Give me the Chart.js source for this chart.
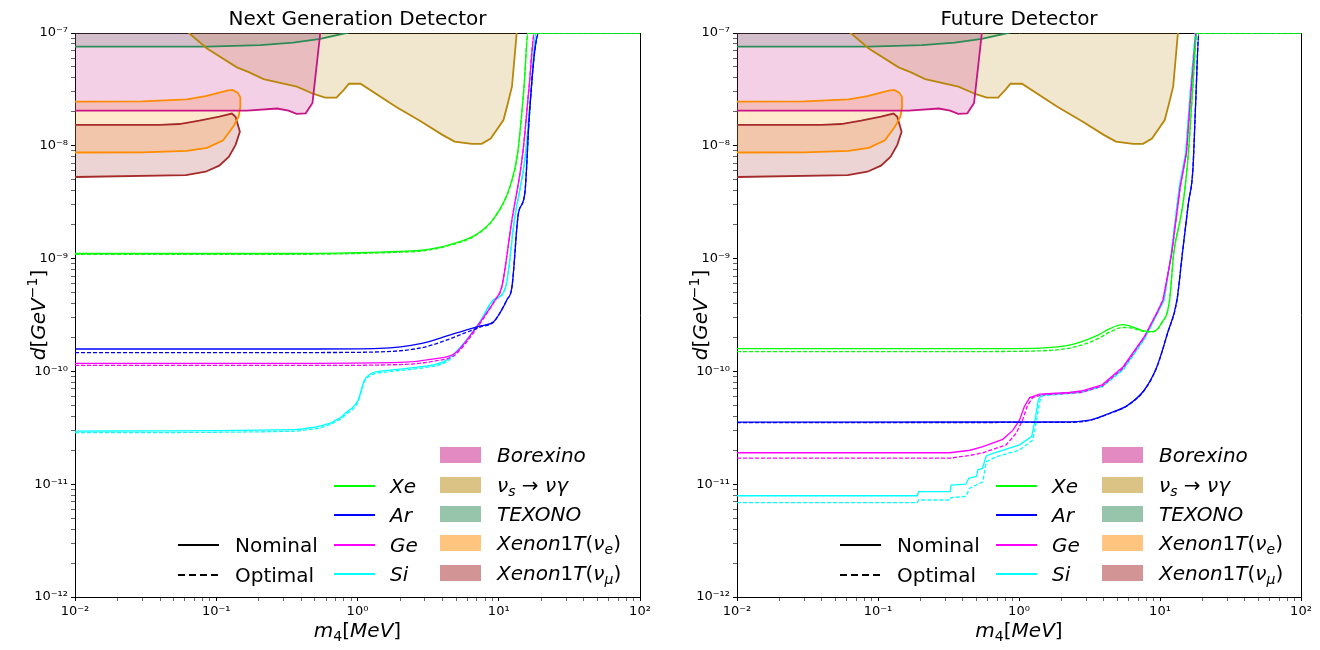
<!DOCTYPE html>
<html>
<head>
<meta charset="utf-8">
<script src="https://cdn.jsdelivr.net/npm/chart.js@4.4.1/dist/chart.umd.min.js"></script>
<style>
  html, body { margin: 0; padding: 0; background: #fff; }
  #wrap { position: relative; width: 1320px; height: 650px; overflow: hidden; font-family: "DejaVu Sans", sans-serif; color: #000; }
  .pane { position: absolute; top: 0; width: 660px; height: 650px; }
  .txt { position: absolute; white-space: nowrap; font-size: 20px; line-height: 20px; }
  sub, sup { font-size: 70%; line-height: 0; }
  sub { vertical-align: -0.3em; }
  sup { vertical-align: 0.55em; }
  .lline { position: absolute; width: 41px; }
  .patch { position: absolute; width: 41px; height: 16px; }
</style>
</head>
<body>
<div id="wrap">
  <div class="pane" style="left:0"><canvas id="c1" width="660" height="650"></canvas></div>
  <div class="pane" style="left:660px"><canvas id="c2" width="660" height="650"></canvas></div>
</div>
<script>
// ---------------- tick labels ----------------
const xMajor = [0.01, 0.1, 1, 10, 100];
const xMajorLabels = ['10\u207B\u00B2', '10\u207B\u00B9', '10\u2070', '10\u00B9', '10\u00B2'];
const yMajor = [1e-12, 1e-11, 1e-10, 1e-9, 1e-8, 1e-7];
const yMajorLabels = ['10\u207B\u00B9\u00B2', '10\u207B\u00B9\u00B9', '10\u207B\u00B9\u2070', '10\u207B\u2079', '10\u207B\u2078', '10\u207B\u2077'];

// ---------------- exclusion regions (closed outlines) ----------------
const borexinoX = [0.005, 0.01, 0.165, 0.27, 0.325, 0.37, 0.43, 0.48, 0.545, 0.58, 0.005];
const borexinoY = [2.05e-8, 2.05e-8, 2.05e-8, 2.14e-8, 2.05e-8, 1.92e-8, 1.94e-8, 2.4e-8, 1e-7, 2e-7, 2e-7];

const nuGammaX = [0.05, 0.064, 0.086, 0.14, 0.17, 0.216, 0.372, 0.49, 0.59, 0.71, 0.80, 0.87, 1.05, 1.87, 2.82, 3.99, 4.87, 6.44, 7.57, 8.77, 10.8, 11.6, 12.4, 13.4, 13.8, 13.8, 0.05];
const nuGammaY = [1.3e-7, 1e-7, 7.3e-8, 4.96e-8, 4.5e-8, 3.9e-8, 3.35e-8, 2.88e-8, 2.67e-8, 2.67e-8, 3.13e-8, 3.55e-8, 3.55e-8, 2.22e-8, 1.64e-8, 1.25e-8, 1.09e-8, 1.04e-8, 1.04e-8, 1.16e-8, 1.69e-8, 2.38e-8, 3.34e-8, 1e-7, 1.4e-7, 2e-7, 2e-7];

const texonoX = [0.005, 0.086, 0.205, 0.35, 0.545, 0.83, 1.3, 1.3, 0.005];
const texonoY = [7.56e-8, 7.56e-8, 7.8e-8, 8.2e-8, 8.85e-8, 1e-7, 1.15e-7, 2e-7, 2e-7];

const xenonEX = [0.005, 0.03, 0.062, 0.084, 0.119, 0.13, 0.1415, 0.148, 0.148, 0.144, 0.132, 0.112, 0.086, 0.062, 0.03, 0.005];
const xenonEY = [2.46e-8, 2.48e-8, 2.58e-8, 2.76e-8, 3.08e-8, 3.13e-8, 2.96e-8, 2.7e-8, 2.2e-8, 1.81e-8, 1.48e-8, 1.12e-8, 9.6e-9, 9.0e-9, 8.75e-9, 8.7e-9];

const xenonMuX = [0.005, 0.04, 0.0547, 0.0759, 0.105, 0.129, 0.137, 0.147, 0.137, 0.123, 0.105, 0.084, 0.061, 0.005];
const xenonMuY = [1.53e-8, 1.535e-8, 1.56e-8, 1.67e-8, 1.81e-8, 1.93e-8, 1.81e-8, 1.33e-8, 1.02e-8, 8.0e-9, 6.67e-9, 5.89e-9, 5.5e-9, 5.21e-9];

// ---------------- Next Generation Detector ----------------
const xeNgX    = [0.01, 0.3, 1, 2, 2.89, 4.4, 7.1, 9.4, 12.0, 13.6, 15.1, 16.1, 100];
const xeNgNom  = [1.11e-9, 1.11e-9, 1.13e-9, 1.16e-9, 1.19e-9, 1.32e-9, 1.67e-9, 2.35e-9, 4.35e-9, 8.6e-9, 3.34e-8, 1e-7, 1e-7];
const xeNgOpt  = [1.09e-9, 1.09e-9, 1.11e-9, 1.14e-9, 1.17e-9, 1.30e-9, 1.65e-9, 2.33e-9, 4.3e-9, 8.5e-9, 3.3e-8, 1e-7, 1e-7];

const arNgX    = [0.01, 0.5, 1.43, 2.85, 4.3, 5.7, 7.45, 9.2, 10.2, 11.4, 12.4, 13.8, 15.3, 16.4, 17.9, 19.2, 100];
const arNgNom  = [1.58e-10, 1.58e-10, 1.6e-10, 1.77e-10, 2.06e-10, 2.30e-10, 2.53e-10, 2.76e-10, 3.3e-10, 4.3e-10, 5.6e-10, 2.54e-9, 3.8e-9, 1.7e-8, 6.6e-8, 1e-7, 1e-7];
const arNgOpt  = [1.47e-10, 1.47e-10, 1.49e-10, 1.62e-10, 1.9e-10, 2.18e-10, 2.48e-10, 2.74e-10, 3.3e-10, 4.3e-10, 5.6e-10, 2.54e-9, 3.8e-9, 1.7e-8, 6.6e-8, 1e-7, 1e-7];

const geNgX    = [0.01, 0.5, 2.0, 3.47, 4.9, 6.47, 7.94, 9.44, 10.5, 12.4, 14.8, 16.4, 17.9, 100];
const geNgNom  = [1.18e-10, 1.18e-10, 1.2e-10, 1.29e-10, 1.45e-10, 2.18e-10, 3.1e-10, 4.3e-10, 5.6e-10, 2.2e-9, 8.6e-9, 3.34e-8, 1e-7, 1e-7];
const geNgOpt  = [1.13e-10, 1.13e-10, 1.15e-10, 1.23e-10, 1.4e-10, 2.12e-10, 3.05e-10, 4.3e-10, 5.6e-10, 2.2e-9, 8.6e-9, 3.34e-8, 1e-7, 1e-7];

const siNgX    = [0.01, 0.359, 0.45, 0.542, 0.6, 0.65, 0.7, 0.75, 0.82, 1.01, 1.12, 1.24, 1.63, 2.83, 4.28, 5.63, 7.41, 9.12, 11.2, 12.9, 15.5, 17.0, 18.4, 100];
const siNgNom  = [2.96e-11, 3.05e-11, 3.15e-11, 3.28e-11, 3.4e-11, 3.5e-11, 3.7e-11, 3.85e-11, 4.26e-11, 5.57e-11, 8.4e-11, 9.5e-11, 1.02e-10, 1.10e-10, 1.26e-10, 1.77e-10, 2.8e-10, 4.3e-10, 5.6e-10, 2.2e-9, 8.6e-9, 3.34e-8, 1e-7, 1e-7];
const siNgOpt  = [2.86e-11, 2.95e-11, 3.05e-11, 3.15e-11, 3.3e-11, 3.4e-11, 3.6e-11, 3.75e-11, 4.1e-11, 5.4e-11, 8.1e-11, 9.2e-11, 9.9e-11, 1.07e-10, 1.22e-10, 1.7e-10, 2.7e-10, 4.2e-10, 5.6e-10, 2.2e-9, 8.6e-9, 3.34e-8, 1e-7, 1e-7];

// ---------------- Future Detector ----------------
const xeFX     = [0.01, 0.5, 1.39, 2.40, 3.63, 4.46, 5.41, 6.3, 7.48, 8.87, 10.2, 11.7, 12.5, 13.9, 14.9, 15.9, 17.1, 18.3, 100];
const xeFNom   = [1.59e-10, 1.59e-10, 1.61e-10, 1.74e-10, 2.1e-10, 2.41e-10, 2.6e-10, 2.5e-10, 2.3e-10, 2.25e-10, 2.66e-10, 4.3e-10, 1.11e-9, 2.2e-9, 3.8e-9, 8.6e-9, 3.34e-8, 1e-7, 1e-7];
const xeFOpt   = [1.50e-10, 1.50e-10, 1.52e-10, 1.63e-10, 1.95e-10, 2.25e-10, 2.45e-10, 2.42e-10, 2.28e-10, 2.24e-10, 2.64e-10, 4.3e-10, 1.11e-9, 2.2e-9, 3.8e-9, 8.6e-9, 3.34e-8, 1e-7, 1e-7];

const arFX     = [0.01, 1.95, 3.16, 4.47, 5.88, 7.74, 9.5, 11.3, 13.2, 14.4, 15.9, 17.1, 17.9, 18.9, 100];
const arFNom   = [3.55e-11, 3.56e-11, 3.7e-11, 4.3e-11, 5.0e-11, 6.84e-11, 1.1e-10, 2.18e-10, 4.3e-10, 1.1e-9, 3.1e-9, 6.1e-9, 2.38e-8, 1e-7, 1e-7];
const arFOpt   = [3.52e-11, 3.53e-11, 3.67e-11, 4.27e-11, 4.97e-11, 6.8e-11, 1.09e-10, 2.17e-10, 4.3e-10, 1.1e-9, 3.1e-9, 6.1e-9, 2.38e-8, 1e-7, 1e-7];

const geFNomX  = [0.01, 0.322, 0.45, 0.554, 0.767, 0.903, 1.008, 1.09, 1.19, 1.40, 2.27, 2.76, 3.89, 5.48, 7.74, 9.5, 10.5, 12.1, 13.9, 15.4, 16.7, 18.0, 100];
const geFNom   = [1.9e-11, 1.9e-11, 2.0e-11, 2.15e-11, 2.5e-11, 3.0e-11, 3.7e-11, 4.86e-11, 5.86e-11, 6.3e-11, 6.5e-11, 6.7e-11, 7.6e-11, 1.1e-10, 2.03e-10, 3.3e-10, 4.3e-10, 1.1e-9, 4.3e-9, 8.6e-9, 3.34e-8, 1e-7, 1e-7];
const geFOptX  = [0.01, 0.322, 0.45, 0.554, 0.81, 0.955, 1.06, 1.15, 1.25, 1.47, 2.27, 2.76, 3.89, 5.48, 7.74, 9.5, 10.5, 12.1, 13.9, 15.4, 16.7, 18.0, 100];
const geFOpt   = [1.7e-11, 1.7e-11, 1.8e-11, 1.9e-11, 2.23e-11, 2.83e-11, 3.7e-11, 5.0e-11, 5.86e-11, 6.2e-11, 6.4e-11, 6.5e-11, 7.4e-11, 1.07e-10, 2.0e-10, 3.3e-10, 4.3e-10, 1.1e-9, 4.3e-9, 8.6e-9, 3.34e-8, 1e-7, 1e-7];

const siFNomX  = [0.01, 0.19, 0.194, 0.325, 0.33, 0.42, 0.44, 0.5, 0.51, 0.55, 0.586, 0.653, 1.008, 1.23, 1.30, 1.37, 1.45, 2.27, 2.76, 3.89, 5.48, 7.74, 9.5, 10.7, 12.0, 13.7, 15.2, 16.5, 17.8, 100];
const siFNom   = [7.9e-12, 7.9e-12, 8.6e-12, 8.6e-12, 9.8e-12, 1.0e-11, 1.13e-11, 1.17e-11, 1.34e-11, 1.38e-11, 1.78e-11, 1.88e-11, 2.23e-11, 2.64e-11, 3.71e-11, 5.57e-11, 6.18e-11, 6.47e-11, 6.6e-11, 7.4e-11, 1.05e-10, 1.95e-10, 3.2e-10, 4.3e-10, 1.1e-9, 4.3e-9, 8.6e-9, 3.34e-8, 1e-7, 1e-7];
const siFOptX  = [0.01, 0.19, 0.194, 0.325, 0.33, 0.42, 0.447, 0.498, 0.554, 0.586, 0.69, 1.008, 1.25, 1.32, 1.40, 1.47, 2.27, 2.76, 3.89, 5.48, 7.74, 9.5, 10.7, 12.0, 13.7, 15.2, 16.5, 17.8, 100];
const siFOpt   = [6.86e-12, 6.86e-12, 7.24e-12, 7.24e-12, 7.6e-12, 7.8e-12, 9.2e-12, 9.84e-12, 1.05e-11, 1.58e-11, 1.75e-11, 2.01e-11, 2.46e-11, 3.47e-11, 5.38e-11, 6.1e-11, 6.35e-11, 6.5e-11, 7.3e-11, 1.03e-10, 1.92e-10, 3.2e-10, 4.3e-10, 1.1e-9, 4.3e-9, 8.6e-9, 3.34e-8, 1e-7, 1e-7];

// ---------------- styles ----------------
const COL = { xe: '#00ff00', ar: '#0000ff', ge: '#ff00ff', si: '#00ffff' };
const REG = {
  borexino: [199, 21, 133],
  nugamma: [184, 134, 11],
  texono: [46, 139, 87],
  xenonE: [255, 140, 0],
  xenonMu: [165, 42, 42]
};
const rgba = (c, a) => `rgba(${c[0]},${c[1]},${c[2]},${a})`;
const pts = (xs, ys) => xs.map((x, i) => ({ x: x, y: ys[i] }));

function regionFill(xs, ys, c) {
  return { data: pts(xs, ys), borderColor: 'rgba(0,0,0,0)', backgroundColor: rgba(c, 0.2),
    borderWidth: 0, fill: 'shape', pointRadius: 0, tension: 0, order: 20, clip: 0 };
}
function regionEdge(xs, ys, c) {
  return { data: pts(xs, ys), borderColor: rgba(c, 1), borderWidth: 1.8, fill: false,
    pointRadius: 0, tension: 0, order: 10, clip: 0 };
}
function curve(xs, ys, color, dashed, smooth) {
  return { data: pts(xs, ys), borderColor: color, borderWidth: 1.3, borderDash: dashed ? [4, 2] : [],
    fill: false, pointRadius: 0, tension: 0, cubicInterpolationMode: smooth ? 'monotone' : 'default', order: 1 };
}
function regions() {
  const list = [[borexinoX, borexinoY, REG.borexino], [nuGammaX, nuGammaY, REG.nugamma],
    [texonoX, texonoY, REG.texono], [xenonEX, xenonEY, REG.xenonE], [xenonMuX, xenonMuY, REG.xenonMu]];
  return list.map(r => regionFill(r[0], r[1], r[2])).concat(list.map(r => regionEdge(r[0], r[1], r[2])));
}

function logTicks(major) {
  const t = [];
  for (let i = 0; i < major.length; i++) {
    t.push({ value: major[i], major: true });
    if (i < major.length - 1) for (let k = 2; k < 10; k++) t.push({ value: major[i] * k, major: false });
  }
  return t;
}
function labelFor(major, labels) {
  return (v) => {
    const j = major.findIndex(m => Math.abs(Math.log10(m) - Math.log10(v)) < 1e-6);
    return j >= 0 ? labels[j] : '';
  };
}
const tickFont = { family: 'DejaVu Sans', size: 13 };
const gridOpts = {
  drawOnChartArea: false, tickLength: 4,
  tickColor: c => (c.tick && c.tick.major) ? '#000' : '#222',
  tickWidth: c => (c.tick && c.tick.major) ? 1 : 0.7
};

function makeChart(id, datasets, yAxisWidth, padRight) {
  return new Chart(document.getElementById(id), {
    type: 'line',
    data: { datasets: datasets },
    options: {
      responsive: false, animation: false, devicePixelRatio: 1,
      layout: { padding: { left: 0, top: 33, right: padRight, bottom: 0 } },
      plugins: { legend: { display: false }, tooltip: { enabled: false }, title: { display: false } },
      scales: {
        x: {
          type: 'logarithmic', position: 'bottom', min: 0.01, max: 100,
          afterBuildTicks: s => { s.ticks = logTicks(xMajor); },
          afterFit: s => { s.height = 53; },
          ticks: { callback: labelFor(xMajor, xMajorLabels), autoSkip: false, maxRotation: 0, color: '#000', font: tickFont, padding: 3 },
          grid: gridOpts, border: { display: true, color: '#000', width: 1 }
        },
        y: {
          type: 'logarithmic', position: 'left', min: 1e-12, max: 1e-7,
          afterBuildTicks: s => { s.ticks = logTicks(yMajor); },
          afterFit: s => { s.width = yAxisWidth; },
          ticks: { callback: labelFor(yMajor, yMajorLabels), autoSkip: false, color: '#000', font: tickFont, padding: 3 },
          grid: gridOpts, border: { display: true, color: '#000', width: 1 }
        },
        xTop: {
          type: 'logarithmic', position: 'top', min: 0.01, max: 100,
          ticks: { display: false }, grid: { drawOnChartArea: false, drawTicks: false },
          border: { display: true, color: '#000', width: 1 },
          afterFit: s => { s.height = 0; }
        },
        yRight: {
          type: 'logarithmic', position: 'right', min: 1e-12, max: 1e-7,
          ticks: { display: false }, grid: { drawOnChartArea: false, drawTicks: false },
          border: { display: true, color: '#000', width: 1 },
          afterFit: s => { s.width = 0; }
        }
      }
    }
  });
}

makeChart('c1', regions().concat([
  curve(xeNgX, xeNgNom, COL.xe, false, true),
  curve(xeNgX, xeNgOpt, COL.xe, true, true),
  curve(arNgX, arNgNom, COL.ar, false, true),
  curve(arNgX, arNgOpt, COL.ar, true, true),
  curve(geNgX, geNgNom, COL.ge, false, true),
  curve(geNgX, geNgOpt, COL.ge, true, true),
  curve(siNgX, siNgNom, COL.si, false, true),
  curve(siNgX, siNgOpt, COL.si, true, true)
]), 75, 20);

makeChart('c2', regions().concat([
  curve(xeFX, xeFNom, COL.xe, false, true),
  curve(xeFX, xeFOpt, COL.xe, true, true),
  curve(arFX, arFNom, COL.ar, false, true),
  curve(arFX, arFOpt, COL.ar, true, true),
  curve(geFNomX, geFNom, COL.ge, false, false),
  curve(geFOptX, geFOpt, COL.ge, true, false),
  curve(siFNomX, siFNom, COL.si, false, false),
  curve(siFOptX, siFOpt, COL.si, true, false)
]), 77, 19);

// ---------------- text overlays (titles, axis labels, legends) ----------------
const wrap = document.getElementById('wrap');
function addText(html, left, top, extra) {
  const d = document.createElement('div');
  d.className = 'txt';
  d.innerHTML = html;
  d.style.left = left + 'px';
  d.style.top = top + 'px';
  if (extra) Object.assign(d.style, extra);
  wrap.appendChild(d);
  return d;
}
function addBox(cls, left, top, css) {
  const d = document.createElement('div');
  d.className = cls;
  d.style.left = left + 'px';
  d.style.top = top + 'px';
  Object.assign(d.style, css);
  wrap.appendChild(d);
}
const titles = ['Next Generation Detector', 'Future Detector'];
const seriesNames = ['<i>Xe</i>', '<i>Ar</i>', '<i>Ge</i>', '<i>Si</i>'];
const seriesColors = [COL.xe, COL.ar, COL.ge, COL.si];
const regionNames = ['<i>Borexino</i>', '<i>&nu;<sub>s</sub></i> &rarr; <i>&nu;&gamma;</i>', '<i>TEXONO</i>',
  '<i>Xenon</i>1<i>T</i>(<i>&nu;<sub>e</sub></i>)', '<i>Xenon</i>1<i>T</i>(<i>&nu;<sub>&mu;</sub></i>)'];
const regionColors = [REG.borexino, REG.nugamma, REG.texono, REG.xenonE, REG.xenonMu];

[{ off: 0, left: 75, right: 640 }, { off: 662, left: 737, right: 1301 }].forEach((p, k) => {
  const cx = (p.left + p.right) / 2;
  addText(titles[k], cx - 200, 8, { width: '400px', textAlign: 'center' });
  addText('<i>m</i><sub>4</sub>[<i>MeV</i>]', cx - 100, 620, { width: '200px', textAlign: 'center' });
  addText('<i>d</i>[<i>GeV</i><sup>&minus;1</sup>]', p.left - 37 - 100, 305,
    { width: '200px', textAlign: 'center', transform: 'rotate(-90deg)', transformOrigin: '100px 10px' });

  // line-style legend
  addBox('lline', p.off + 178, 544, { height: '2px', background: '#000' });
  addText('Nominal', p.off + 235, 535);
  [0, 1, 2, 3].forEach(i => addBox('lline', p.off + 178 + i * 11, 574, { width: '7px', height: '2px', background: '#000' }));
  addText('Optimal', p.off + 235, 565);
  // series legend
  [486, 515, 545, 574].forEach((y, i) => {
    addBox('lline', p.off + 334, y - 1, { height: '1.6px', background: seriesColors[i] });
    addText(seriesNames[i], p.off + 390, y - 10);
  });
  // region legend
  [455, 484.5, 513.5, 542.5, 572.5].forEach((y, i) => {
    addBox('patch', p.off + 440, y - 8, { background: rgba(regionColors[i], 0.5) });
    addText(regionNames[i], p.off + 497, y - 10);
  });
});
</script>
</body>
</html>
